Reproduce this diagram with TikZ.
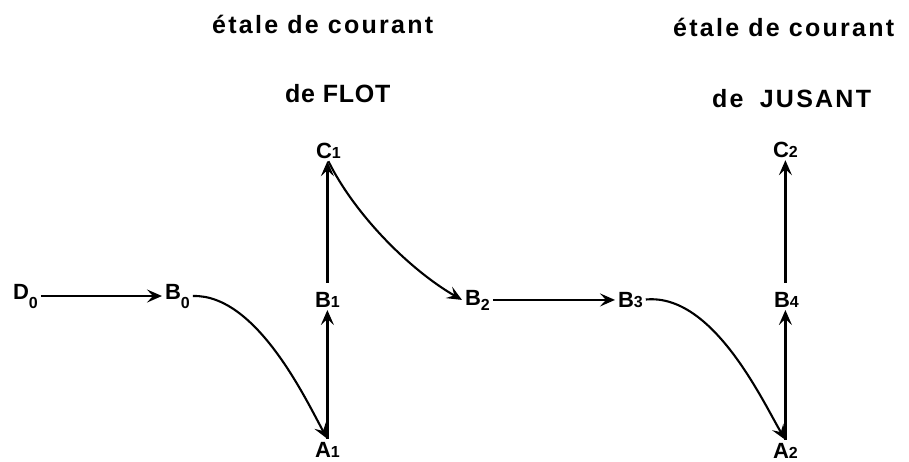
\documentclass[tikz,border=0pt]{standalone}
\usepackage{fontspec}
\setmainfont{Liberation Sans}
\usetikzlibrary{arrows.meta}
\newcommand{\sbs}[2][0]{\raisebox{-#1pt}{\fontsize{16}{16}\selectfont #2}}
\begin{document}
\begin{tikzpicture}[x=1pt,y=-1pt,
  lbl/.style={inner sep=0pt, outer sep=3pt, anchor=base west, font=\fontsize{22}{22}\selectfont\bfseries},
  ttl/.style={inner sep=0pt, anchor=base west, font=\fontsize{25}{25}\selectfont\bfseries},
  arr/.style={line width=2.4pt, -{Stealth[length=15pt,width=13pt,inset=6pt]}},
  carr/.style={line width=2.1pt, -{Stealth[length=15pt,width=13pt,inset=6pt]}},
]
\useasboundingbox (0,0) rectangle (909,461);

% titles
\node[ttl] (t1a) at (212,33) {\addfontfeatures{LetterSpace=9}étale de courant};
\node[ttl] (t1b) at (285,102) {\addfontfeatures{LetterSpace=3}de FLOT};
\node[ttl] (t2a) at (673,36) {\addfontfeatures{LetterSpace=9}étale de courant};
\node[ttl] (t2b) at (712,107) {\addfontfeatures{LetterSpace=9}de\hspace{7pt} JUSANT};

% nodes
\node[lbl] (D0) at (10,299) {D\sbs[9]{0}};
\node[lbl] (B0) at (162,299) {B\sbs[9]{0}};
\node[lbl] (C1) at (313,158) {C\sbs{1}};
\node[lbl] (B1) at (312,307) {B\sbs{1}};
\node[lbl] (A1) at (312,457) {A\sbs{1}};
\node[lbl] (B2) at (462,305) {B\sbs[5]{2}};
\node[lbl] (B3) at (615,307) {B\sbs{3}};
\node[lbl] (B4) at (771,307) {B\sbs{4}};
\node[lbl] (C2) at (770,157) {C\sbs{2}};
\node[lbl] (A2) at (770,458) {A\sbs{2}};

% connectors
\draw[arr] (D0.east) -- (B0.west);
\draw[carr] (B0.east) .. controls (257,294) and (307,402) .. (A1.north);
\draw[arr] (A1.north) -- (B1.south);
\draw[arr, shorten <=6pt] (B1.north) -- (B1.north |- C1.south);
\draw[carr] (C1.south) .. controls (355,215) and (410,270) .. (B2.west);
\draw[arr] (B2.east) -- (B3.west |- B2.east);
\draw[carr] (B3.east) .. controls (713,293) and (763,402) .. (A2.north);
\draw[arr] (A2.north) -- (A2.north |- B4.south);
\draw[arr, shorten <=6pt] (A2.north |- B4.north) -- (C2.south);
\end{tikzpicture}
\end{document}
